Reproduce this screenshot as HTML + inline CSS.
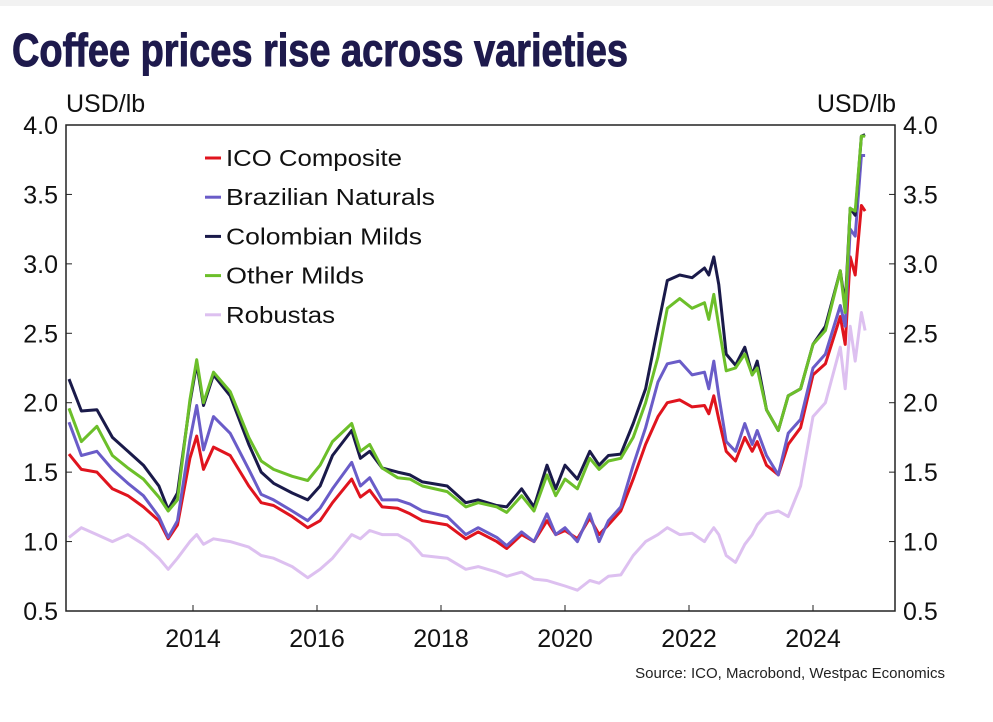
<!DOCTYPE html>
<html><head><meta charset="utf-8"><style>
body{margin:0;background:#fff;width:993px;height:717px;overflow:hidden;font-family:"Liberation Sans",sans-serif}
</style></head><body>
<svg width="993" height="717" xmlns="http://www.w3.org/2000/svg">
<rect x="0" y="0" width="993" height="6" fill="#f2f2f2"/>
<text x="12" y="66" font-family="Liberation Sans Narrow, Liberation Sans, sans-serif" font-weight="bold" font-size="46" fill="#1e1a4d" textLength="616" lengthAdjust="spacingAndGlyphs" stroke="#1e1a4d" stroke-width="1">Coffee prices rise across varieties</text>
<text x="66" y="112" font-size="25" fill="#111">USD/lb</text>
<text x="896" y="112" font-size="25" fill="#111" text-anchor="end">USD/lb</text>
<g id="axes"></g>
<g id="series"></g>
<g id="legend"></g>
<text x="945" y="678" font-size="15" fill="#222" text-anchor="end">Source: ICO, Macrobond, Westpac Economics</text>
</svg>
<script>
const dates=[2012.0,2012.2,2012.45,2012.7,2012.95,2013.2,2013.45,2013.6,2013.75,2013.95,2014.06,2014.17,2014.33,2014.6,2014.9,2015.1,2015.3,2015.6,2015.85,2016.05,2016.25,2016.56,2016.7,2016.85,2017.05,2017.3,2017.5,2017.7,2018.1,2018.4,2018.6,2018.9,2019.06,2019.3,2019.5,2019.71,2019.85,2020.0,2020.2,2020.4,2020.55,2020.7,2020.9,2021.1,2021.3,2021.5,2021.65,2021.85,2022.05,2022.25,2022.32,2022.4,2022.48,2022.6,2022.75,2022.9,2023.02,2023.1,2023.25,2023.44,2023.6,2023.8,2024.0,2024.2,2024.44,2024.52,2024.6,2024.68,2024.78,2024.84];
const icoComposite=[1.63,1.52,1.50,1.38,1.33,1.25,1.15,1.02,1.12,1.60,1.76,1.52,1.68,1.62,1.40,1.28,1.26,1.18,1.10,1.15,1.28,1.45,1.32,1.37,1.25,1.24,1.20,1.15,1.12,1.02,1.07,1.00,0.95,1.05,1.00,1.15,1.05,1.08,1.02,1.17,1.05,1.12,1.22,1.45,1.70,1.90,2.00,2.02,1.97,1.98,1.92,2.05,1.88,1.65,1.58,1.75,1.65,1.72,1.55,1.48,1.70,1.82,2.20,2.28,2.62,2.42,3.05,2.92,3.42,3.38];
const brazilianNaturals=[1.86,1.62,1.65,1.52,1.42,1.33,1.18,1.03,1.15,1.73,1.98,1.66,1.90,1.78,1.52,1.34,1.30,1.22,1.15,1.24,1.38,1.57,1.40,1.46,1.30,1.30,1.27,1.22,1.18,1.05,1.10,1.03,0.97,1.07,1.00,1.20,1.05,1.10,1.00,1.20,1.00,1.15,1.25,1.55,1.82,2.15,2.28,2.30,2.20,2.22,2.10,2.30,2.05,1.72,1.65,1.85,1.70,1.80,1.62,1.48,1.78,1.88,2.25,2.35,2.70,2.55,3.25,3.20,3.78,3.78];
const colombianMilds=[2.17,1.94,1.95,1.75,1.65,1.55,1.40,1.23,1.35,2.00,2.28,1.98,2.20,2.05,1.70,1.50,1.42,1.35,1.30,1.40,1.62,1.80,1.60,1.65,1.53,1.50,1.48,1.43,1.40,1.28,1.30,1.26,1.25,1.38,1.25,1.55,1.38,1.55,1.45,1.65,1.55,1.62,1.63,1.85,2.10,2.55,2.88,2.92,2.90,2.97,2.92,3.05,2.85,2.35,2.27,2.40,2.20,2.30,1.95,1.80,2.05,2.10,2.42,2.55,2.95,2.70,3.40,3.35,3.92,3.93];
const otherMilds=[1.96,1.72,1.83,1.62,1.53,1.45,1.32,1.22,1.30,2.02,2.31,2.00,2.22,2.08,1.75,1.58,1.52,1.47,1.44,1.55,1.72,1.85,1.65,1.70,1.53,1.46,1.45,1.40,1.36,1.25,1.28,1.25,1.21,1.33,1.22,1.48,1.33,1.45,1.38,1.60,1.52,1.58,1.60,1.75,2.00,2.33,2.68,2.75,2.68,2.72,2.60,2.78,2.55,2.23,2.25,2.35,2.20,2.25,1.95,1.80,2.05,2.10,2.42,2.52,2.95,2.65,3.40,3.38,3.92,3.92];
const robustas=[1.03,1.10,1.05,1.00,1.05,0.98,0.88,0.80,0.88,1.00,1.05,0.98,1.02,1.00,0.96,0.90,0.88,0.82,0.74,0.80,0.88,1.05,1.02,1.08,1.05,1.05,1.00,0.90,0.88,0.80,0.82,0.78,0.75,0.78,0.73,0.72,0.70,0.68,0.65,0.72,0.70,0.75,0.76,0.90,1.00,1.05,1.10,1.05,1.06,1.00,1.05,1.10,1.05,0.90,0.85,0.98,1.05,1.12,1.20,1.22,1.18,1.40,1.90,2.00,2.40,2.10,2.55,2.30,2.65,2.52];
const yTicks=[0.5,1.0,1.5,2.0,2.5,3.0,3.5,4.0];
const xTicks=[2014,2016,2018,2020,2022,2024];
const seriesNames=["ICO Composite","Brazilian Naturals","Colombian Milds","Other Milds","Robustas"];

const NS="http://www.w3.org/2000/svg";
const L=66,R=895,T=125,B=611;
function xs(d){return 193+(d-2014)*62;}
function ys(v){return T+(4-v)/3.5*(B-T);}
function mk(tag,attrs,parent){const e=document.createElementNS(NS,tag);for(const k in attrs)e.setAttribute(k,attrs[k]);parent.appendChild(e);return e;}
const axes=document.getElementById('axes');
const frame=mk('rect',{x:L,y:T,width:R-L,height:B-T,fill:'none',stroke:'#222','stroke-width':1.5},axes);


yTicks.forEach(v=>{
  const y=ys(v);
  const t1=mk('line',{x1:L,x2:L+6,y1:y,y2:y,stroke:'#222'},axes);
  
  
  const t2=mk('line',{x1:R-6,x2:R,y1:y,y2:y,stroke:'#222'},axes);
  
  
  const a=mk('text',{x:58,y:y+9,'font-size':25,'text-anchor':'end',fill:'#111'},axes);a.textContent=v.toFixed(1);
  
  
  const b=mk('text',{x:903,y:y+9,'font-size':25,fill:'#111'},axes);b.textContent=v.toFixed(1);
  
  
});
xTicks.forEach(d=>{
  const x=xs(d);
  const t=mk('line',{x1:x,x2:x,y1:B,y2:B-6,stroke:'#222'},axes);
  
  
  const a=mk('text',{x:x,y:647,'font-size':25,'text-anchor':'middle',fill:'#111'},axes);a.textContent=d;
  
  
});
const sg=document.getElementById('series');
const order=[[robustas,'#ddc0f0','robustas-line'],[icoComposite,'#e0141e','ico-composite-line'],[brazilianNaturals,'#6a5cc8','brazilian-naturals-line'],[colombianMilds,'#1a1a4a','colombian-milds-line'],[otherMilds,'#6cbf2a','other-milds-line']];
order.forEach(([arr,c,n])=>{
  const pts=arr.map((v,i)=>xs(dates[i]).toFixed(1)+','+ys(v).toFixed(1)).join(' ');
  const p=mk('polyline',{points:pts,fill:'none',stroke:c,'stroke-width':3,'stroke-linejoin':'round'},sg);
  
  
});
const lg=document.getElementById('legend');
const lcols=['#e0141e','#6a5cc8','#1a1a4a','#6cbf2a','#ddc0f0'];
seriesNames.forEach((s,i)=>{
  const y=158+i*39.2;
  const l=mk('line',{x1:205,x2:221,y1:y,y2:y,stroke:lcols[i],'stroke-width':3},lg);
  
  
  const t=mk('text',{x:226,y:y+8,'font-size':23,fill:'#111',textLength:[176,209,196,138,109][i],lengthAdjust:'spacingAndGlyphs'},lg);t.textContent=s;
  
  
});
</script>
</body></html>
